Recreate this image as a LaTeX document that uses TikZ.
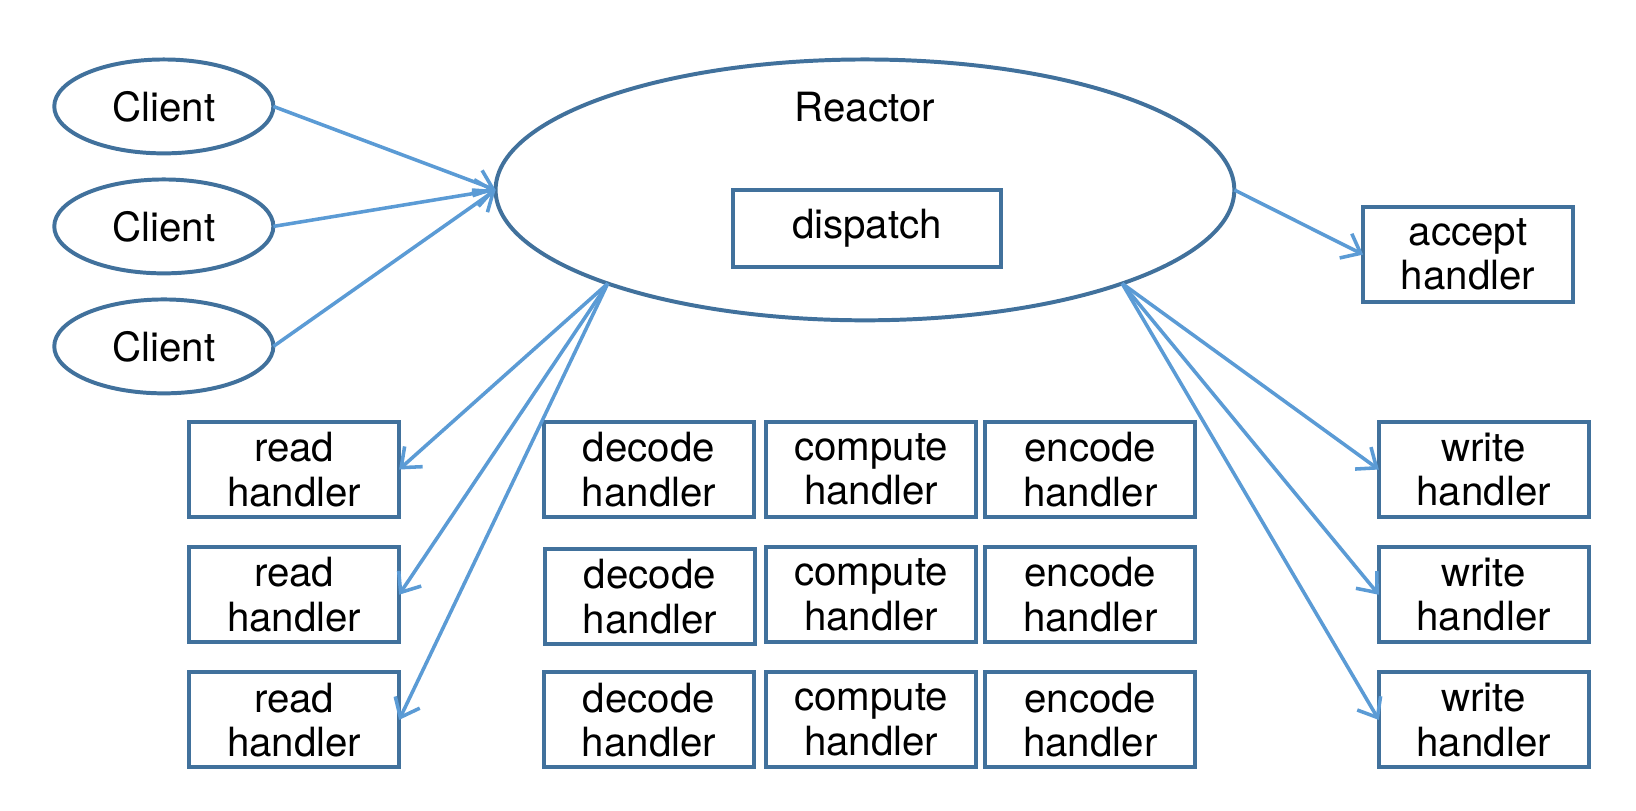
\documentclass[tikz,border=0pt]{standalone}
\usepackage{fontspec}
\setmainfont{TeX Gyre Heros}
\usetikzlibrary{shapes.geometric,arrows.meta}
\definecolor{edgeblue}{HTML}{41719C}
\definecolor{arrowblue}{HTML}{5B9BD5}
\begin{document}
\begin{tikzpicture}[x=0.5pt,y=-0.5pt,
  every node/.style={font=\fontsize{19.3}{21.3}\selectfont, text=black, inner sep=0pt, outer sep=0pt},
  client/.style={ellipse, draw=edgeblue, line width=1.9pt, minimum width=105pt, minimum height=45pt},
  reactorshape/.style={ellipse, draw=edgeblue, line width=1.9pt, minimum width=354pt, minimum height=125pt},
  handler/.style={rectangle, draw=edgeblue, line width=1.9pt, minimum width=100.5pt, minimum height=45.5pt, align=center},
  link/.style={draw=arrowblue, line width=1.7pt, -{Straight Barb[length=8pt,width=13pt]}},
]
\useasboundingbox (0,0) rectangle (1568,776.5);
% clients
\node[client] (c1) at (157,102) {Client};
\node[client] (c2) at (157,217) {Client};
\node[client] (c3) at (157,332) {Client};
% reactor
\node[reactorshape] (reactor) at (829,182) {};
\node (rlabel) at (829,103) {Reactor};
\node[rectangle, draw=edgeblue, line width=1.9pt, minimum width=128.5pt, minimum height=37pt] (dispatch) at (831,219) {dispatch};
% accept
\node[handler] (accept) at (1407,244) {accept\\handler};
% read handlers
\node[handler] (r1) at (282,450) {read\\handler};
\node[handler] (r2) at (282,570) {read\\handler};
\node[handler] (r3) at (282,690) {read\\handler};
% decode/compute/encode
\node[handler] (d1) at (622,450) {decode\\handler};
\node[handler] (d2) at (623,572) {decode\\handler};
\node[handler] (d3) at (622,690) {decode\\handler};
\node[handler] (p1) at (835,450) {compute\\handler};
\node[handler] (p2) at (835,570) {compute\\handler};
\node[handler] (p3) at (835,690) {compute\\handler};
\node[handler] (e1) at (1045,450) {encode\\handler};
\node[handler] (e2) at (1045,570) {encode\\handler};
\node[handler] (e3) at (1045,690) {encode\\handler};
% write handlers
\node[handler] (w1) at (1422,450) {write\\handler};
\node[handler] (w2) at (1422,570) {write\\handler};
\node[handler] (w3) at (1422,690) {write\\handler};
% connectors
\draw[link] (c1.east) -- (reactor.west);
\draw[link] (c2.east) -- (reactor.west);
\draw[link] (c3.east) -- (reactor.west);
\draw[link] (reactor.east) -- (accept.west);
\draw[link] (reactor.200) -- (r1.east);
\draw[link] (reactor.200) -- (r2.east);
\draw[link] (reactor.200) -- (r3.east);
\draw[link] (reactor.-20) -- (w1.west);
\draw[link] (reactor.-20) -- (w2.west);
\draw[link] (reactor.-20) -- (w3.west);
\end{tikzpicture}
\end{document}
